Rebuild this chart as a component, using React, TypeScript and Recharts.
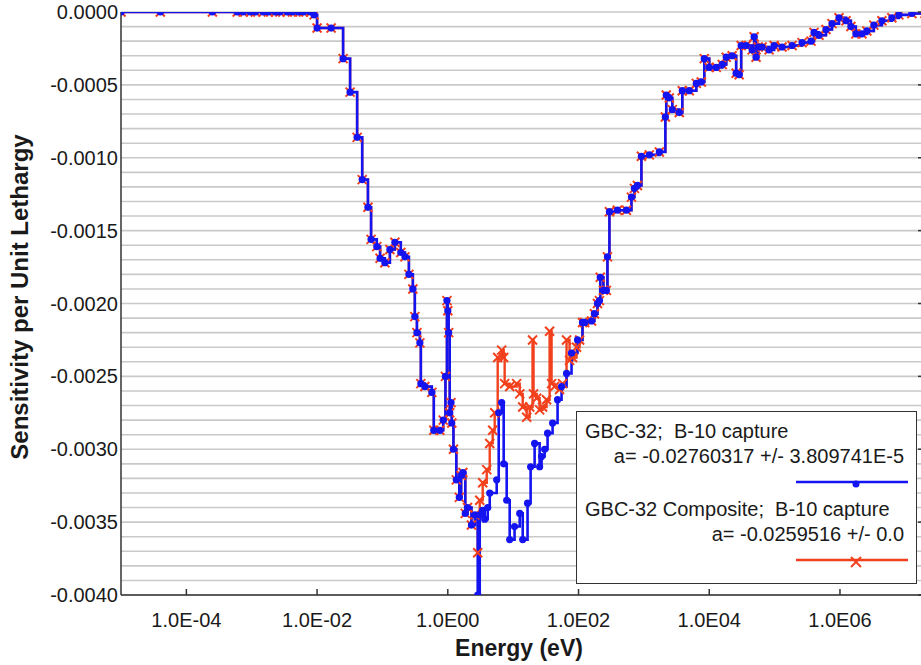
import React from 'react';
import { LineChart, Line, XAxis, YAxis, CartesianGrid, Legend } from 'recharts';

// energy (eV) and sensitivity per unit lethargy
const lowEnergy = [
  1e-5, 4.0e-5, 2.5e-4, 6.0e-4, 7.4e-4, 9.5e-4, 1.14e-3, 1.5e-3, 1.8e-3, 2.3e-3,
  2.7e-3, 3.5e-3, 4.2e-3, 5.2e-3, 6.2e-3, 7.9e-3, 9.0e-3, 1.0e-2,
  1.64e-2, 2.5e-2, 3.2e-2, 4.1e-2, 4.9e-2, 6.0e-2, 6.7e-2, 8.2e-2, 9.2e-2, 0.109,
  0.13, 0.155, 0.191, 0.221, 0.254, 0.292, 0.313, 0.337, 0.374, 0.387,
  0.446, 0.57, 0.611, 0.755, 0.85, 0.92, 0.97, 1.0, 1.03, 1.07,
  1.12, 1.15, 1.22, 1.35, 1.5, 1.6, 1.7, 1.85, 2.0, 2.3, 2.6,
];
const lowSens = [
  0, 0, 0, 0, 0, 0, 0, 0, 0, 0,
  0, 0, 0, 0, 0, 0, -0.00002, -0.00011,
  -0.00011, -0.00032, -0.00055, -0.00086, -0.00115, -0.00134, -0.00156, -0.00161, -0.00169, -0.00172,
  -0.00163, -0.00158, -0.00165, -0.00168, -0.0018, -0.0019, -0.00209, -0.0022, -0.00227, -0.00255,
  -0.00257, -0.00261, -0.00287, -0.00287, -0.0028, -0.0025, -0.00198, -0.00205, -0.0022, -0.00275,
  -0.00268, -0.00282, -0.003, -0.00321, -0.00333, -0.00318, -0.00316, -0.00344, -0.0034, -0.00352, -0.00345,
];

const blueMidEnergy = [
  2.87, 3.08, 3.4, 3.67, 4.08, 4.38, 5.6, 6.01, 6.67, 7.16,
  7.96, 8.85, 10.5, 12.6, 14.0, 16.6, 18.5, 21.3, 25.4, 27.2,
  30.3, 33.6, 40.1, 47.8, 55.0, 65.6, 78.2, 96.6, 115,
];
const blueMidSens = [
  -0.004, -0.00345, -0.00342, -0.00348, -0.0034, -0.0033, -0.00321, -0.00275, -0.00268, -0.0031,
  -0.00335, -0.00362, -0.00353, -0.00344, -0.00362, -0.00337, -0.00312, -0.00296, -0.00312, -0.00305,
  -0.003, -0.00289, -0.00282, -0.00266, -0.00257, -0.00248, -0.00234, -0.00225, -0.00213,
];

const redMidEnergy = [
  2.87, 3.08, 3.42, 3.94, 4.38, 4.86, 5.22, 5.8, 6.67, 7.16,
  7.41, 8.85, 11.3, 12.6, 14.0, 16.1, 17.9, 19.8, 20.5, 22.9,
  25.4, 28.2, 32.4, 36.1, 38.7, 43.0, 51.3, 57.0, 65.6, 72.9,
  81.0, 93.2, 104, 115,
];
const redMidSens = [
  -0.00371, -0.00335, -0.00323, -0.00314, -0.00296, -0.00287, -0.00275, -0.00237, -0.00232, -0.00237,
  -0.00255, -0.00257, -0.00255, -0.00262, -0.00271, -0.00278, -0.00271, -0.00225, -0.00262, -0.00265,
  -0.00273, -0.00271, -0.00266, -0.00219, -0.00255, -0.00257, -0.00259, -0.00255, -0.00225, -0.00239,
  -0.00237, -0.0023, -0.00225, -0.00213,
];

const highEnergy = [
  124, 158, 175, 195, 209, 215, 240, 267, 277, 297,
  394, 541, 645, 716, 796, 916, 1213, 1725, 2130, 2200,
  2450, 2720, 3480, 3870, 4950, 6340, 7550, 8400, 1.0e4, 1.28e4,
  1.58e4, 1.82e4, 2.24e4, 2.58e4, 2.87e4, 3.08e4, 3.67e4, 4.53e4, 4.86e4, 5.2e4,
  5.6e4, 6.44e4, 8.24e4, 9.82e4, 1.3e5, 1.85e5, 2.63e5, 3.61e5, 4.01e5, 4.78e5,
  6.11e5, 7.55e5, 9.66e5, 1.24e6, 1.47e6, 1.75e6, 2.17e6, 2.58e6, 3.3e6, 4.38e6,
  6.22e6, 7.96e6, 1.26e7, 2.0e7,
];
const highSens = [
  -0.00213, -0.00212, -0.00207, -0.002, -0.00198, -0.00182, -0.00191, -0.00191, -0.00168, -0.00137,
  -0.00136, -0.00136, -0.00127, -0.00121, -0.00119, -0.00099, -0.00098, -0.00096, -0.00072, -0.00057,
  -0.00059, -0.00067, -0.00069, -0.00054, -0.00054, -0.00049, -0.00048, -0.00032, -0.00038, -0.00038,
  -0.00036, -0.00031, -0.0003, -0.00042, -0.00043, -0.00023, -0.00023, -0.00026, -0.00017, -0.00031,
  -0.00024, -0.00024, -0.00026, -0.00023, -0.00024, -0.00023, -0.00021, -0.0002, -0.00014, -0.00016,
  -0.00012, -0.00008, -0.00004, -0.00006, -0.0001, -0.00015, -0.00015, -0.00013, -0.00009, -0.00006,
  -0.00004, -0.00002, -0.00001, -0.00001,
];

const xTicks = [1e-4, 1e-2, 1, 1e2, 1e4, 1e6];
const legendItems = [
  { name: 'GBC-32;  B-10 capture', fit: 'a= -0.02760317 +/- 3.809741E-5' },
  { name: 'GBC-32 Composite;  B-10 capture', fit: 'a= -0.0259516 +/- 0.0' },
];

const BLUE = '#1414f0';
const RED = '#f2401d';
const FONT = "'Liberation Sans', Arial, sans-serif";
const TEXT = '#1a1a1a';
const PLOT_LEFT = 121;
const PLOT_RIGHT = 925;
const PLOT_TOP = 12;
const PLOT_BOTTOM = 595;

const rows = (e: number[], s: number[]) => e.map((energy, i) => ({ energy, sens: s[i] }));
const blueData = rows([...lowEnergy, ...blueMidEnergy, ...highEnergy], [...lowSens, ...blueMidSens, ...highSens]);
const redData = rows([...lowEnergy, ...redMidEnergy, ...highEnergy], [...lowSens, ...redMidSens, ...highSens]);

// every 0.0001 gets a grid line, every 0.0005 a label
const yTicks = Array.from({ length: 41 }, (_, i) => -i / 10000);

const fmtEnergy = (v: number) => {
  const p = Math.round(Math.log10(v));
  return `1.0E${p < 0 ? '-' : ''}${String(Math.abs(p)).padStart(2, '0')}`;
};

const BottomTick = (props: any) => {
  const { x, payload } = props;
  return (
    <g>
      <line x1={x} x2={x} y1={PLOT_BOTTOM} y2={PLOT_BOTTOM - 6} stroke="#333" strokeWidth={1.5} />
      <text x={x} y={627} textAnchor="middle" fontSize={20} fontFamily={FONT} fill={TEXT}>
        {fmtEnergy(payload.value)}
      </text>
    </g>
  );
};

const TopTick = (props: any) => {
  const { x } = props;
  return <line x1={x} x2={x} y1={PLOT_TOP} y2={PLOT_TOP + 6} stroke="#333" strokeWidth={1.5} />;
};

const LeftTick = (props: any) => {
  const { y, payload } = props;
  const idx = Math.round(-payload.value * 10000);
  if (idx % 5 !== 0) return <g />;
  return (
    <g>
      <text x={118} y={y + 7} textAnchor="end" fontSize={20} fontFamily={FONT} fill={TEXT}>
        {idx === 0 ? '0.0000' : payload.value.toFixed(4)}
      </text>
      <line x1={PLOT_RIGHT - 7} x2={PLOT_RIGHT} y1={y} y2={y} stroke="#333" strokeWidth={1.5} />
    </g>
  );
};

const YTitle = () => (
  <text
    x={28}
    y={297}
    transform="rotate(-90 28 297)"
    textAnchor="middle"
    fontSize={24}
    fontWeight="bold"
    fontFamily={FONT}
    fill={TEXT}
  >
    Sensitivity per Unit Lethargy
  </text>
);

const XTitle = () => (
  <text x={519} y={656} textAnchor="middle" fontSize={23} fontWeight="bold" fontFamily={FONT} fill={TEXT}>
    Energy (eV)
  </text>
);

const XMark = (props: any) => {
  const { cx, cy, index } = props;
  if (cx == null || cy == null) return <g key={index} />;
  return (
    <g key={index}>
      <line x1={cx - 4.5} y1={cy - 4.5} x2={cx + 4.5} y2={cy + 4.5} stroke={RED} strokeWidth={2} />
      <line x1={cx - 4.5} y1={cy + 4.5} x2={cx + 4.5} y2={cy - 4.5} stroke={RED} strokeWidth={2} />
    </g>
  );
};

const BlueDot = (props: any) => {
  const { cx, cy, index } = props;
  if (cx == null || cy == null) return <g key={index} />;
  return <circle key={index} cx={cx} cy={cy} r={3.6} fill={BLUE} />;
};

const LegendBox = () => (
  <div
    style={{
      position: 'relative',
      width: 341,
      height: 173,
      boxSizing: 'border-box',
      border: '1.5px solid #333',
      background: '#fff',
      fontFamily: FONT,
      fontSize: 20,
      color: TEXT,
      whiteSpace: 'pre',
    }}
  >
    {legendItems.map((item, i) => {
      const top = i * 78;
      const color = i === 0 ? BLUE : RED;
      return (
        <React.Fragment key={item.name}>
          <div style={{ position: 'absolute', left: 8, top: top + 7, lineHeight: '24px' }}>{item.name}</div>
          <div style={{ position: 'absolute', right: 12, top: top + 32, lineHeight: '24px' }}>{item.fit}</div>
          <svg style={{ position: 'absolute', left: 215, top: top + 62 }} width={120} height={16}>
            <line x1={4} x2={116} y1={8} y2={8} stroke={color} strokeWidth={2.5} />
            {i === 0 ? (
              <circle cx={64} cy={10} r={3.5} fill={BLUE} />
            ) : (
              <g>
                <line x1={59} y1={5} x2={69} y2={15} stroke={RED} strokeWidth={2} />
                <line x1={59} y1={15} x2={69} y2={5} stroke={RED} strokeWidth={2} />
              </g>
            )}
          </svg>
        </React.Fragment>
      );
    })}
  </div>
);

export default function App() {
  return (
    <div style={{ position: 'absolute', left: 0, top: 0, width: 921, height: 665, overflow: 'hidden', background: '#fff' }}>
      <LineChart width={930} height={665} margin={{ top: PLOT_TOP, right: 930 - PLOT_RIGHT, left: 0, bottom: 0 }}>
        <CartesianGrid vertical={false} stroke="#c9c9c9" strokeWidth={1.6} yAxisId="y" />
        <XAxis
          xAxisId="b"
          type="number"
          dataKey="energy"
          scale="log"
          domain={[1e-5, 2e7]}
          allowDataOverflow
          ticks={xTicks}
          interval={0}
          tickLine={false}
          tick={<BottomTick />}
          axisLine={{ stroke: '#333', strokeWidth: 1.5 }}
          height={665 - PLOT_BOTTOM}
          label={<XTitle />}
        />
        <XAxis
          xAxisId="t"
          orientation="top"
          type="number"
          dataKey="energy"
          scale="log"
          domain={[1e-5, 2e7]}
          allowDataOverflow
          ticks={xTicks}
          interval={0}
          tickLine={false}
          tick={<TopTick />}
          axisLine={{ stroke: '#333', strokeWidth: 1.5 }}
          height={0}
        />
        <YAxis
          yAxisId="y"
          type="number"
          domain={[-0.004, 0]}
          allowDataOverflow
          ticks={yTicks}
          interval={0}
          tickLine={false}
          tick={<LeftTick />}
          axisLine={{ stroke: '#333', strokeWidth: 1.5 }}
          width={PLOT_LEFT}
          label={<YTitle />}
        />
        <Line
          xAxisId="b"
          yAxisId="y"
          data={redData}
          dataKey="sens"
          type="stepAfter"
          stroke={RED}
          strokeWidth={2.4}
          dot={XMark}
          activeDot={false}
          isAnimationActive={false}
        />
        <Line
          xAxisId="b"
          yAxisId="y"
          data={blueData}
          dataKey="sens"
          type="stepAfter"
          stroke={BLUE}
          strokeWidth={2.6}
          dot={BlueDot}
          activeDot={false}
          isAnimationActive={false}
        />
        <Legend
          layout="vertical"
          align="center"
          verticalAlign="middle"
          wrapperStyle={{ left: 576, top: 411, width: 341, height: 173 }}
          content={LegendBox}
        />
      </LineChart>
    </div>
  );
}
